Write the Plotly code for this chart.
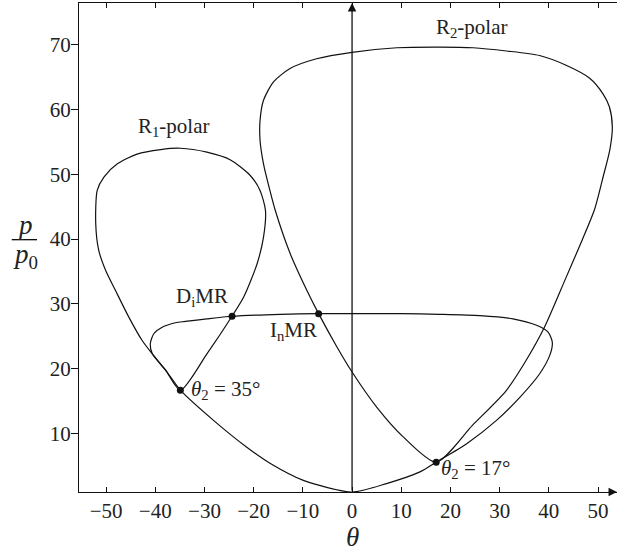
import plotly.graph_objects as go

# Incident shock polar (closed loop starting at the free-stream state)
theta_I = [0.0, -9.9, -16.6, -21.4, -28.1, -34.9, -37.9, -40.6, -41.0, -40.3, -38.6,
           -35.9, -33.9, -29.5, -24.4, -14.6, -6.8, 0.0, 10.0, 17.8, 26.0, 32.7,
           37.5, 39.8, 40.7, 40.2, 38.1, 34.1, 29.3, 23.3, 17.1, 13.8, 7.0, 0.0]
p_I = [1.0, 2.8, 5.4, 7.9, 12.0, 16.7, 19.8, 22.3, 23.9, 25.4, 26.4,
       27.1, 27.3, 27.7, 28.1, 28.4, 28.5, 28.5, 28.5, 28.4, 28.2, 27.7,
       26.7, 25.7, 24.1, 22.1, 19.2, 15.6, 12.0, 8.45, 5.6, 4.1, 2.3, 1.0]

# R1 reflected polar
theta_R1 = [-34.9, -37.9, -40.6, -42.7, -45.4, -48.1, -50.1, -51.5, -52.1, -51.8,
            -50.4, -47.7, -43.7, -38.9, -34.9, -29.5, -24.7, -20.7, -18.7, -17.6,
            -18.0, -19.3, -22.0, -24.4, -29.5, -34.9]
p_R1 = [16.7, 19.8, 22.3, 24.4, 28.0, 32.1, 35.2, 38.3, 42.4, 47.5,
        49.6, 51.6, 53.1, 53.8, 54.0, 53.4, 52.2, 49.8, 47.5, 44.4,
        40.3, 36.2, 31.1, 28.1, 22.3, 16.7]

# R2 reflected polar
theta_R2 = [17.1, 10.4, 5.0, 0.0, -3.1, -6.8, -9.2, -12.6, -15.6, -16.7, -18.0,
            -18.7, -18.7, -18.0, -16.0, -12.6, -7.2, 0.0, 9.1, 17.8, 24.6, 31.4,
            38.1, 43.5, 48.3, 51.0, 52.3, 52.9, 52.4, 51.1, 49.3, 46.8, 43.4,
            39.1, 35.3, 31.3, 24.5, 17.1]
p_R2 = [5.6, 9.5, 14.1, 19.5, 23.4, 28.5, 32.1, 37.8, 44.4, 47.5, 51.6,
        55.2, 58.3, 61.4, 64.2, 66.3, 67.8, 68.8, 69.5, 69.6, 69.5, 69.0,
        68.3, 66.8, 64.8, 62.4, 60.4, 57.3, 53.8, 49.8, 44.6, 39.9, 33.9,
        26.4, 21.2, 16.6, 11.3, 5.6]

# Marked solution points
theta_pts = [-34.9, -24.4, -6.8, 17.1]
p_pts = [16.7, 28.1, 28.5, 5.6]

x_ticks = [-50, -40, -30, -20, -10, 0, 10, 20, 30, 40, 50]
y_ticks = [10, 20, 30, 40, 50, 60, 70]
X_RANGE = [-55.5, 53.85]
Y_RANGE = [1.0, 76.4]

SERIF = "Liberation Serif, Times New Roman, serif"
INK = "#111111"
TXT = "#222222"

fig = go.Figure()
for tx, py in [(theta_I, p_I), (theta_R1, p_R1), (theta_R2, p_R2)]:
    fig.add_trace(go.Scatter(x=tx, y=py, mode="lines",
                             line=dict(color=INK, width=1.2, shape="spline", smoothing=0.7),
                             hoverinfo="skip", showlegend=False))
fig.add_trace(go.Scatter(x=theta_pts, y=p_pts, mode="markers",
                         marker=dict(color=INK, size=7), showlegend=False))

# Vertical theta = 0 axis with arrowhead, and arrow at end of the theta axis
fig.add_annotation(x=0, y=Y_RANGE[1], ax=0, ay=Y_RANGE[0], xref="x", yref="y",
                   axref="x", ayref="y", showarrow=True, arrowhead=2, arrowsize=1.3,
                   arrowwidth=1.3, arrowcolor=INK, text="")
fig.add_annotation(x=X_RANGE[1], y=Y_RANGE[0], ax=X_RANGE[1] - 2, ay=Y_RANGE[0],
                   xref="x", yref="y", axref="x", ayref="y", showarrow=True,
                   arrowhead=2, arrowsize=1.3, arrowwidth=1.3, arrowcolor=INK, text="")

lab = dict(family=SERIF, size=21, color=TXT)
labels = [
    (-36.2, 57.3, "R<sub>1</sub>-polar", "center"),
    (24.4, 72.6, "R<sub>2</sub>-polar", "center"),
    (-30.6, 31.0, "D<sub>i</sub>MR", "center"),
    (-12.0, 25.9, "I<sub>n</sub>MR", "center"),
    (-33.2, 16.8, "<i>θ</i><sub>2</sub> = 35°", "left"),
    (17.7, 4.5, "<i>θ</i><sub>2</sub> = 17°", "left"),
]
for x, y, t, xa in labels:
    fig.add_annotation(x=x, y=y, xref="x", yref="y", text=t, showarrow=False,
                       xanchor=xa, yanchor="middle", font=lab)

# Axis titles
title_font = dict(family=SERIF, size=27, color=TXT)
fig.add_annotation(x=0, y=-0.093, xref="x", yref="paper", text="<i>θ</i>",
                   showarrow=False, xanchor="center", yanchor="middle", font=title_font)
fig.add_annotation(x=-0.100, y=0.547, xref="paper", yref="paper", text="<i>p</i>",
                   showarrow=False, xanchor="center", yanchor="middle", font=title_font)
fig.add_annotation(x=-0.100, y=0.482, xref="paper", yref="paper", text="<i>p</i><sub>0</sub>",
                   showarrow=False, xanchor="center", yanchor="middle", font=title_font)
fig.add_shape(type="line", xref="paper", yref="paper", x0=-0.125, x1=-0.078,
              y0=0.516, y1=0.516, line=dict(color=INK, width=1.3))

fig.update_layout(
    width=617, height=551,
    margin=dict(l=79, r=0, t=3, b=59),
    paper_bgcolor="white", plot_bgcolor="white",
    showlegend=False,
    xaxis=dict(range=X_RANGE, tickvals=x_ticks, ticks="inside", ticklen=5,
               tickcolor=INK, showline=True, linecolor=INK, linewidth=1.3,
               mirror="ticks", showgrid=False, zeroline=False,
               tickfont=dict(family=SERIF, size=21, color=TXT)),
    yaxis=dict(range=Y_RANGE, tickvals=y_ticks, ticks="outside", ticklen=7,
               tickcolor=INK, showline=True, linecolor=INK, linewidth=1.3,
               mirror=False, showgrid=False, zeroline=False, ticklabelstandoff=-4,
               tickfont=dict(family=SERIF, size=21, color=TXT)),
)

fig.write_html("out.html")
